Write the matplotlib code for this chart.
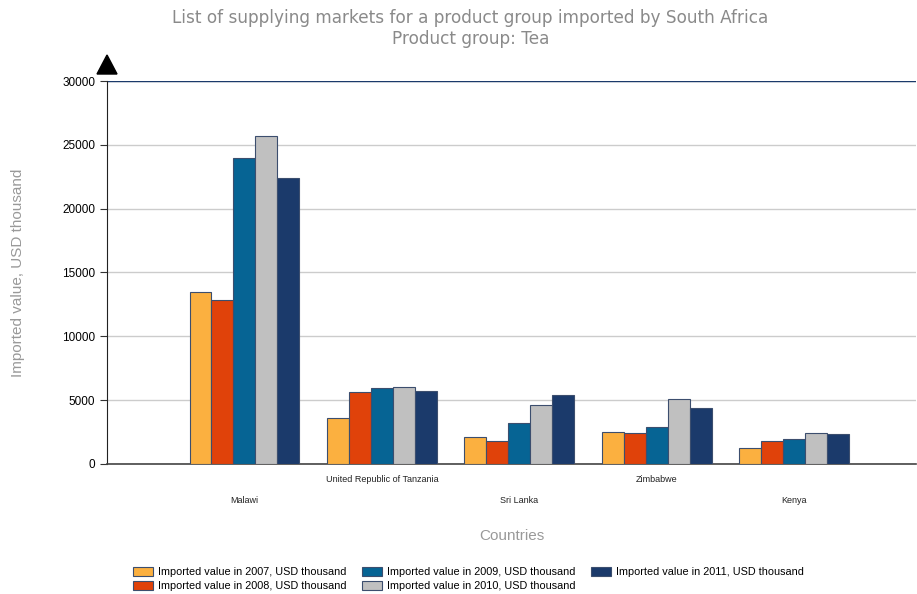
import numpy as np
import matplotlib.pyplot as plt

countries = ['Malawi', 'United Republic of Tanzania', 'Sri Lanka', 'Zimbabwe', 'Kenya']
years = ['2007', '2008', '2009', '2010', '2011']
v2007 = [13500, 3580, 2130, 2520, 1215]
v2008 = [12850, 5610, 1790, 2390, 1815]
v2009 = [23960, 5930, 3225, 2880, 1975]
v2010 = [25690, 6060, 4605, 5105, 2390]
v2011 = [22400, 5745, 5390, 4370, 2310]
series = [v2007, v2008, v2009, v2010, v2011]
colors = ['#FBB040', '#E0420A', '#066494', '#C0C0C0', '#1B3A6B']

plt.rcParams['font.family'] = ['Liberation Sans', 'DejaVu Sans']
fig = plt.figure(figsize=(9.17, 5.94), dpi=100)
ax = fig.add_axes([0.1167, 0.2189, 0.8823, 0.6447])

x = np.arange(len(countries))
w = 0.16
for i in range(len(series)):
    ax.bar(x + (i - 2) * w, series[i], w, color=colors[i], edgecolor='#3c4e6e',
           linewidth=0.8, label='Imported value in %s, USD thousand' % years[i], zorder=3)

ax.set_xlim(-1, 4.885)
ax.set_ylim(0, 30000)
ax.set_yticks(np.arange(0, 30001, 5000))
ax.tick_params(axis='y', labelsize=8.5, length=5, color='#333333')
ax.yaxis.grid(True, color='#cccccc', linewidth=1, zorder=0)
ax.axhline(30000, color='#1B3A6B', linewidth=1, zorder=2)
ax.set_xticks([])
for s in ['top', 'right']:
    ax.spines[s].set_visible(False)
ax.spines['left'].set_color('#222222')
ax.spines['bottom'].set_color('#444444')
ax.spines['bottom'].set_linewidth(1.2)

# staggered country labels
for i, c in enumerate(countries):
    yoff = -0.084 if i % 2 == 0 else -0.029
    ax.text(x[i], yoff, c, transform=ax.get_xaxis_transform(), ha='center', va='top',
            fontsize=6.5, color='#222222')

# arrow on top of y axis
fig.patches.append(plt.Polygon([[0.1058, 0.8754], [0.1276, 0.8754], [0.1167, 0.9074]],
                               closed=True, color='black', transform=fig.transFigure))

ax.set_ylabel('Imported value, USD thousand', color='#999999', fontsize=11, labelpad=27)
fig.text(0.558, 0.098, 'Countries', color='#999999', fontsize=11, ha='center', va='center')
fig.text(0.513, 0.97, 'List of supplying markets for a product group imported by South Africa',
         color='#8a8a8a', fontsize=12.2, ha='center', va='center', family='DejaVu Sans')
fig.text(0.513, 0.934, 'Product group: Tea', color='#8a8a8a', fontsize=12.2, ha='center',
         va='center', family='DejaVu Sans')

leg = fig.legend(loc='lower center', bbox_to_anchor=(0.511, -0.011), ncol=3, frameon=False,
                 prop={'size': 7.8}, handlelength=1.85, handleheight=0.9, columnspacing=1.4,
                 labelspacing=0.35, handletextpad=0.46)

plt.savefig('out.png', dpi=100)
